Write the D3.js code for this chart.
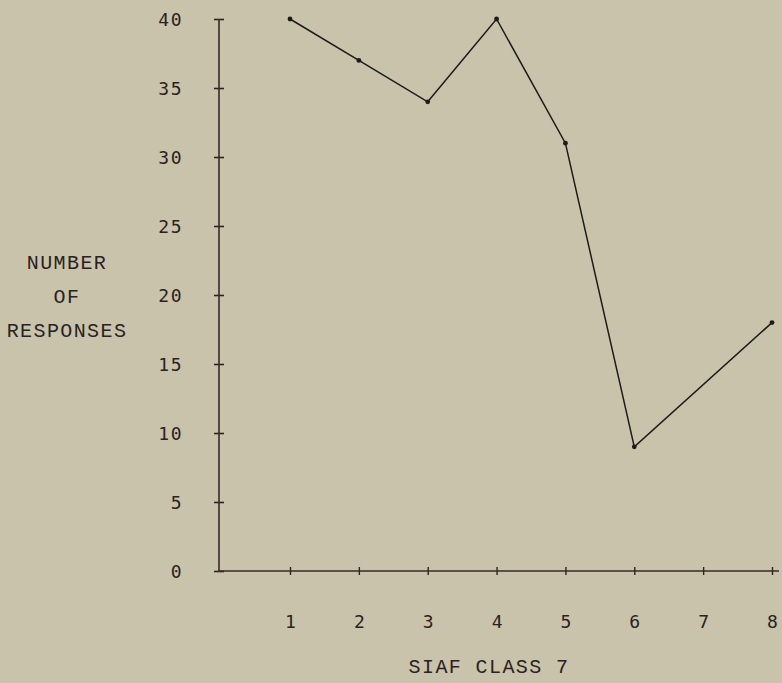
<!DOCTYPE html>
<html>
<head>
<meta charset="utf-8">
<script src="https://cdn.jsdelivr.net/npm/d3@7"></script>
<style>
  body { margin: 0; background: #c9c3ac; }
  svg { display: block; }
  .typed { font-family: "Liberation Mono", "DejaVu Sans Mono", monospace; fill: #2a2220; }
  .digits { font-family: "DejaVu Sans Mono", monospace; }
</style>
</head>
<body>
<div id="chart"></div>
<script>
// Số liệu
const classes = [1, 2, 3, 4, 5, 6, 8]
const responses = [40, 37, 34, 40, 31, 9, 18]
const yTicks = [0, 5, 10, 15, 20, 25, 30, 35, 40]
const xTicks = [1, 2, 3, 4, 5, 6, 7, 8]
const yLabelLines = ["NUMBER", "OF", "RESPONSES"]
const xLabel = "SIAF CLASS 7"

let width = 782,
    height = 683

let svg = d3.select("#chart").append("svg")
    .attr("width", width)
    .attr("height", height)

svg.append("rect")
    .attr("width", width)
    .attr("height", height)
    .attr("fill", "#c9c3ac")

let x = d3.scaleLinear().domain([1, 8]).range([290, 772])
let y = d3.scaleLinear().domain([0, 40]).range([571, 19])

// trục đứng
let axisY = d3.axisLeft(y).tickValues(yTicks).tickSize(0).tickFormat(d3.format("d"))
svg.append("g")
    .attr("transform", "translate(219,0)")
    .call(axisY)
    .call(g => g.select(".domain").remove())
    .call(g => g.selectAll(".tick").append("line")
        .attr("x1", -5).attr("x2", 5)
        .attr("stroke", "#2e2320").attr("stroke-width", 1.6))
    .call(g => g.selectAll(".tick text")
        .attr("class", "digits")
        .attr("x", -36)
        .attr("dy", "0.36em")
        .attr("font-size", 18)
        .attr("letter-spacing", 1.5)
        .attr("fill", "#2a2220"))

svg.append("line")
    .attr("x1", 219).attr("x2", 219)
    .attr("y1", y(40)).attr("y2", y(0))
    .attr("stroke", "#3a2a26").attr("stroke-width", 1.6)

// trục ngang
let axisX = d3.axisBottom(x).tickValues(xTicks).tickSize(0).tickFormat(d3.format("d"))
svg.append("g")
    .attr("transform", "translate(0,571)")
    .call(axisX)
    .call(g => g.select(".domain").remove())
    .call(g => g.selectAll(".tick").append("line")
        .attr("y1", -4).attr("y2", 4)
        .attr("stroke", "#2e2320").attr("stroke-width", 1.4))
    .call(g => g.selectAll(".tick text")
        .attr("class", "digits")
        .attr("y", 57)
        .attr("dy", 0)
        .attr("font-size", 18)
        .attr("fill", "#2a2220"))

svg.append("line")
    .attr("x1", 219).attr("x2", 779)
    .attr("y1", y(0)).attr("y2", y(0))
    .attr("stroke", "#3a2a26").attr("stroke-width", 1.6)

// đường số liệu
let pts = classes.map((c, i) => [c, responses[i]])
let line = d3.line().x(d => x(d[0])).y(d => y(d[1]))

svg.append("path")
    .datum(pts)
    .attr("d", line)
    .attr("fill", "none")
    .attr("stroke", "#1e1a18")
    .attr("stroke-width", 1.5)

svg.selectAll(".dot").data(pts).enter().append("circle")
    .attr("class", "dot")
    .attr("cx", d => x(d[0]))
    .attr("cy", d => y(d[1]))
    .attr("r", 2.4)
    .attr("fill", "#1e1a18")

// nhãn trục
svg.append("text")
    .attr("class", "typed")
    .attr("text-anchor", "middle")
    .attr("font-size", 20)
    .attr("letter-spacing", 1.4)
    .selectAll("tspan").data(yLabelLines).enter().append("tspan")
    .attr("x", 67)
    .attr("y", (d, i) => 262 + i * 34)
    .attr("dy", "0.36em")
    .text(d => d)

svg.append("text")
    .attr("class", "typed")
    .attr("x", 489)
    .attr("y", 666)
    .attr("dy", "0.36em")
    .attr("text-anchor", "middle")
    .attr("font-size", 20)
    .attr("letter-spacing", 1.4)
    .text(xLabel)
</script>
</body>
</html>
